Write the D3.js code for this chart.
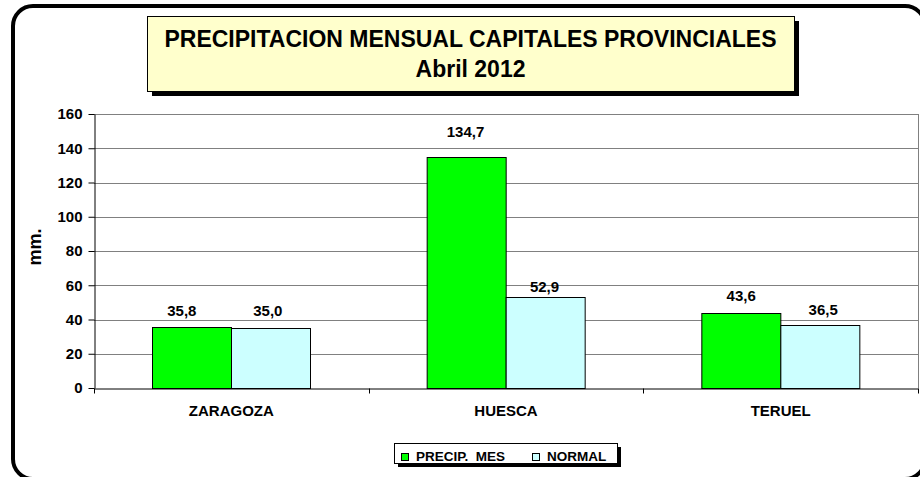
<!DOCTYPE html>
<html>
<head>
<meta charset="utf-8">
<script src="https://cdn.jsdelivr.net/npm/d3@7"></script>
<style>
  html, body { margin: 0; padding: 0; background: #fff; }
  svg { display: block; font-family: "Liberation Sans", Arial, sans-serif; font-weight: bold; }
</style>
</head>
<body>
<div id="chart"></div>
<script>
const cities = ['ZARAGOZA', 'HUESCA', 'TERUEL'];
const precipMes = [35.8, 134.7, 43.6];
const normal = [35.0, 52.9, 36.5];
const seriesNames = ['PRECIP.  MES', 'NORMAL'];
const seriesColors = ['#00ff00', '#ccffff'];
const yTicks = [0, 20, 40, 60, 80, 100, 120, 140, 160];
const titleLines = ['PRECIPITACION MENSUAL CAPITALES PROVINCIALES', 'Abril 2012'];

// label nudges (px) as placed by hand in the original sheet
const labelGap = [[11, 20, 12], [12, 5, 10]];
const labelShift = [[-10, -1, 0], [-3, -1, 3]];

const W = 920, H = 477;
const plot = { left: 94, right: 918, top: 114, bottom: 388 };

const svg = d3.select('#chart').append('svg')
  .attr('width', W)
  .attr('height', H);

// outer rounded frame (runs off the right and bottom edges)
svg.append('rect')
  .attr('x', 13).attr('y', 6)
  .attr('width', 912).attr('height', 473)
  .attr('rx', 20).attr('ry', 20)
  .attr('fill', '#fff')
  .attr('stroke', '#000')
  .attr('stroke-width', 4);

const x = d3.scaleBand().domain(cities).range([plot.left, plot.right]);
const xs = d3.scaleBand().domain([0, 1]).range([0, x.bandwidth()]).paddingOuter(0.738);
const y = d3.scaleLinear().domain([0, 160]).range([plot.bottom, plot.top]);

// gridlines
svg.append('g')
  .selectAll('line')
  .data(yTicks.filter(d => d > 0))
  .enter()
  .append('line')
  .attr('x1', plot.left).attr('x2', plot.right)
  .attr('y1', d => Math.round(y(d)) + 0.5)
  .attr('y2', d => Math.round(y(d)) + 0.5)
  .attr('stroke', '#808080');

svg.append('line')
  .attr('x1', plot.right + 0.5).attr('x2', plot.right + 0.5)
  .attr('y1', plot.top).attr('y2', plot.bottom)
  .attr('stroke', '#808080');

// bars
const rows = cities.map((c, i) => [precipMes[i], normal[i]]);
const groups = svg.append('g')
  .selectAll('g')
  .data(rows)
  .enter()
  .append('g')
  .attr('transform', (d, i) => `translate(${x(cities[i])},0)`);

groups.selectAll('rect')
  .data(d => d)
  .enter()
  .append('rect')
  .attr('x', (d, s) => Math.round(xs(s)) + 0.5)
  .attr('y', d => Math.round(y(d)) + 0.5)
  .attr('width', Math.round(xs.bandwidth()))
  .attr('height', d => Math.round(y(0)) - Math.round(y(d)))
  .attr('fill', (d, s) => seriesColors[s])
  .attr('stroke', '#000')
  .attr('stroke-width', 1);

const fmt = v => d3.format('.1f')(v).replace('.', ',');

groups.each(function (row, ci) {
  d3.select(this).selectAll('text.val')
    .data(row)
    .enter()
    .append('text')
    .attr('class', 'val')
    .attr('x', (d, s) => xs(s) + xs.bandwidth() / 2 + labelShift[s][ci])
    .attr('y', (d, s) => y(d) - labelGap[s][ci])
    .attr('text-anchor', 'middle')
    .attr('font-size', 15)
    .text(fmt);
});

// y axis
const yAxis = svg.append('g')
  .attr('transform', `translate(${plot.left + 0.5},0)`)
  .call(d3.axisLeft(y).tickValues(yTicks).tickSize(6).tickPadding(6).tickSizeOuter(0));
yAxis.selectAll('text').attr('font-size', 15).attr('fill', '#000').attr('font-family', null);
yAxis.selectAll('line').attr('stroke', '#000');
yAxis.select('.domain').attr('stroke', '#000');

// x axis
const xAxis = svg.append('g')
  .attr('transform', `translate(0,${Math.round(plot.bottom) + 0.5})`)
  .call(d3.axisBottom(x).tickSize(0).tickPadding(17).tickSizeOuter(0));
xAxis.selectAll('text').attr('font-size', 15).attr('fill', '#000').attr('font-family', null);
xAxis.select('.domain').attr('stroke', '#000');

// separators between categories
xAxis.append('g')
  .selectAll('line')
  .data(d3.range(cities.length + 1))
  .enter()
  .append('line')
  .attr('x1', i => Math.round(plot.left + i * x.step()) + 0.5)
  .attr('x2', i => Math.round(plot.left + i * x.step()) + 0.5)
  .attr('y1', 0).attr('y2', 5)
  .attr('stroke', '#000');

// y title
svg.append('text')
  .attr('transform', 'translate(41,247) rotate(-90)')
  .attr('text-anchor', 'middle')
  .attr('font-size', 18)
  .text('mm.');

// title box
const tb = { x: 147, y: 16, w: 647, h: 75 };
svg.append('rect')
  .attr('x', tb.x + 5).attr('y', tb.y + 5)
  .attr('width', tb.w).attr('height', tb.h)
  .attr('fill', '#000');
svg.append('rect')
  .attr('x', tb.x + 0.5).attr('y', tb.y + 0.5)
  .attr('width', tb.w).attr('height', tb.h)
  .attr('fill', '#ffffcc')
  .attr('stroke', '#000');
svg.append('g')
  .selectAll('text')
  .data(titleLines)
  .enter()
  .append('text')
  .attr('x', tb.x + tb.w / 2)
  .attr('y', (d, i) => 47 + i * 30)
  .attr('text-anchor', 'middle')
  .attr('font-size', 23)
  .text(d => d);

// legend
const lg = { x: 394, y: 443, w: 223, h: 20 };
svg.append('rect')
  .attr('x', lg.x + 4).attr('y', lg.y + 4)
  .attr('width', lg.w).attr('height', lg.h)
  .attr('fill', '#000');
svg.append('rect')
  .attr('x', lg.x + 0.5).attr('y', lg.y + 0.5)
  .attr('width', lg.w).attr('height', lg.h)
  .attr('fill', '#fff')
  .attr('stroke', '#000');

const legendItems = svg.append('g')
  .selectAll('g')
  .data(seriesNames)
  .enter()
  .append('g')
  .attr('transform', (d, i) => `translate(${401 + i * 131},0)`);

legendItems.append('rect')
  .attr('x', 0.5).attr('y', 453.5)
  .attr('width', 7).attr('height', 7)
  .attr('fill', (d, i) => seriesColors[i])
  .attr('stroke', '#000');

legendItems.append('text')
  .attr('x', 15)
  .attr('y', 461)
  .attr('font-size', 13.5)
  .attr('xml:space', 'preserve')
  .style('white-space', 'pre')
  .text(d => d);
</script>
</body>
</html>
